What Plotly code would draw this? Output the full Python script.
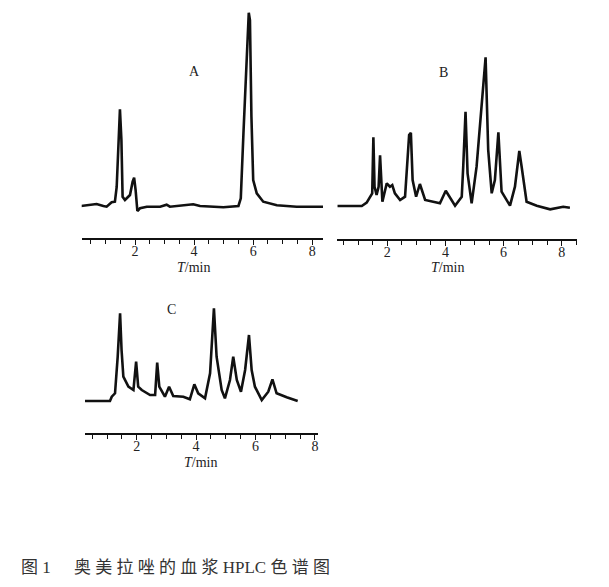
import plotly.graph_objects as go

# page body has an 8 px margin, so the figure is drawn 8 px in from the window corner
OFF = 8
W, H = 609 - 2 * OFF, 587 - 2 * OFF

# ---- data (retention time in min, detector response above baseline, a.u.) ----
time_a = [0.16, 0.70, 0.93, 1.04, 1.21, 1.32, 1.38, 1.44, 1.49, 1.54, 1.58, 1.66, 1.83, 1.92, 1.97,
          2.02, 2.08, 2.17, 2.40, 2.85, 3.07, 3.18, 3.97, 4.20, 4.99, 5.50, 5.58, 5.67, 5.78, 5.85,
          5.89, 5.94, 6.00, 6.12, 6.34, 6.80, 7.47, 8.40]
resp_a = [0, 2, 0, -0.7, 3.7, 4.3, 19, 72.7, 96.7, 66, 9.3, 6, 11, 24.3, 28.3,
          16, -5, -2.3, -0.7, -0.7, 1.3, -0.7, 1.7, 0, -1.3, 0, 7.7, 72.7, 149.3, 193.3,
          186, 89.3, 26, 12.7, 4.3, 0.7, -0.7, -0.7]

time_b = [0.28, 1.12, 1.29, 1.42, 1.48, 1.52, 1.56, 1.63, 1.70, 1.75, 1.80, 1.83, 1.98, 2.09, 2.17,
          2.26, 2.44, 2.61, 2.75, 2.81, 2.87, 2.99, 3.12, 3.30, 3.81, 4.01, 4.33, 4.56, 4.61, 4.69,
          4.76, 4.90, 5.07, 5.25, 5.38, 5.47, 5.59, 5.70, 5.82, 5.93, 6.22, 6.39, 6.54, 6.62, 6.79,
          7.14, 7.60, 8.05, 8.28]
resp_b = [0, 0, 3.3, 9.3, 12.7, 68.7, 19.3, 11, 19.3, 50.7, 22.7, 4.3, 22.7, 19.3, 21,
          12.7, 6, 9.3, 71, 73.3, 26, 9.3, 22, 6, 2.7, 15.3, 0.3, 9.3, 39, 94.3,
          32.7, 2.7, 39.3, 99.3, 148.7, 56, 12.7, 26, 73.7, 14.3, 0.3, 19.3, 55, 39.3, 4.3,
          0.3, -3.3, -0.7, -1.7]

time_c = [0.26, 1.10, 1.16, 1.27, 1.36, 1.44, 1.49, 1.55, 1.72, 1.89, 1.98, 2.05, 2.17, 2.45, 2.62,
          2.69, 2.76, 2.95, 3.09, 3.23, 3.57, 3.79, 3.94, 4.07, 4.30, 4.47, 4.60, 4.69, 4.86, 4.97,
          5.14, 5.25, 5.37, 5.51, 5.65, 5.78, 5.87, 5.98, 6.21, 6.43, 6.57, 6.71, 7.05, 7.42]
resp_c = [0, 0, 4.3, 7.7, 44.3, 87.7, 51, 24.3, 14.3, 11, 39.3, 14.3, 11, 6, 6,
          38.3, 14.3, 4.3, 14.3, 5, 4.3, 1.7, 16.7, 7.7, 2.7, 27.7, 92.7, 44.3, 11, 2.7,
          21, 44.3, 21, 9.3, 31, 66, 31, 14.3, 1, 9.3, 21.7, 7.7, 3.7, 0]

major_ticks = [2, 4, 6, 8]
tick_text = ["2", "4", "6", "8"]
panel_labels = ["A", "B", "C"]
axis_title = "<i>T</i>/min"
caption_fig = "图 1"
caption_text = "奥 美 拉 唑 的 血 浆 HPLC 色 谱 图"

# ---- layout helpers (window pixel -> paper coordinates) ----
def px(x):
    return (x - OFF) / W

def py(y):
    return 1 - (y - OFF) / H

panels = [
    dict(x0=81.7, x1=323.0, yb=238.0, yt=8.0, xr=[0.196, 8.362], yr=[-32, 198]),
    dict(x0=337.3, x1=576.7, yb=239.0, yt=8.0, xr=[0.279, 8.514], yr=[-33, 198]),
    dict(x0=85.0, x1=318.3, yb=433.3, yt=290.0, xr=[0.259, 8.114], yr=[-32.3, 111]),
]

fig = go.Figure()
series = [(time_a, resp_a), (time_b, resp_b), (time_c, resp_c)]
for i, (t, r) in enumerate(series):
    sfx = "" if i == 0 else str(i + 1)
    fig.add_trace(go.Scatter(x=t, y=r, mode="lines", xaxis="x" + sfx, yaxis="y" + sfx,
                             line=dict(color="#111111", width=2.6), hoverinfo="skip"))

tick_font = dict(family="Liberation Serif, Times New Roman, serif", size=14, color="#222222")
layout = dict(width=W, height=H, margin=dict(l=0, r=0, t=0, b=0),
              paper_bgcolor="white", plot_bgcolor="white", showlegend=False)
for i, p in enumerate(panels):
    sfx = "" if i == 0 else str(i + 1)
    layout["xaxis" + sfx] = dict(
        domain=[px(p["x0"]), px(p["x1"])], range=p["xr"], anchor="y" + sfx,
        showline=True, linecolor="#111111", linewidth=1.8, showgrid=False, zeroline=False,
        tickmode="array", tickvals=major_ticks, ticktext=tick_text,
        ticks="outside", ticklen=5, tickwidth=1.2, tickcolor="#111111",
        ticklabelstandoff=-6,
        minor=dict(tickmode="linear", tick0=0, dtick=0.5, ticks="outside", ticklen=4,
                   tickwidth=1, tickcolor="#111111"),
        tickfont=tick_font, fixedrange=True)
    layout["yaxis" + sfx] = dict(
        domain=[py(p["yb"]), py(p["yt"])], range=p["yr"], anchor="x" + sfx,
        visible=False, fixedrange=True)
fig.update_layout(**layout)

ann_font = dict(family="Liberation Serif, Times New Roman, serif", size=14, color="#222222")
label_pos = [(194, 71), (443, 73), (171, 309)]
title_pos = [(193, 268), (447, 268), (200, 462)]
for (lx, ly), lab in zip(label_pos, panel_labels):
    fig.add_annotation(x=px(lx), y=py(ly), xref="paper", yref="paper", text=lab,
                       showarrow=False, font=ann_font, xanchor="center", yanchor="middle")
for (tx, ty) in title_pos:
    fig.add_annotation(x=px(tx), y=py(ty), xref="paper", yref="paper", text=axis_title,
                       showarrow=False, font=ann_font, xanchor="center", yanchor="middle")

cap_font = dict(family="Liberation Serif, Noto Sans CJK SC, serif", size=17, color="#333333")
fig.add_annotation(x=px(20), y=py(578), xref="paper", yref="paper", text=caption_fig,
                   showarrow=False, font=cap_font, xanchor="left", yanchor="bottom",
                   borderpad=0)
fig.add_annotation(x=px(73), y=py(578), xref="paper", yref="paper", text=caption_text,
                   showarrow=False, font=cap_font, xanchor="left", yanchor="bottom",
                   borderpad=0)

fig.write_html("out.html")
